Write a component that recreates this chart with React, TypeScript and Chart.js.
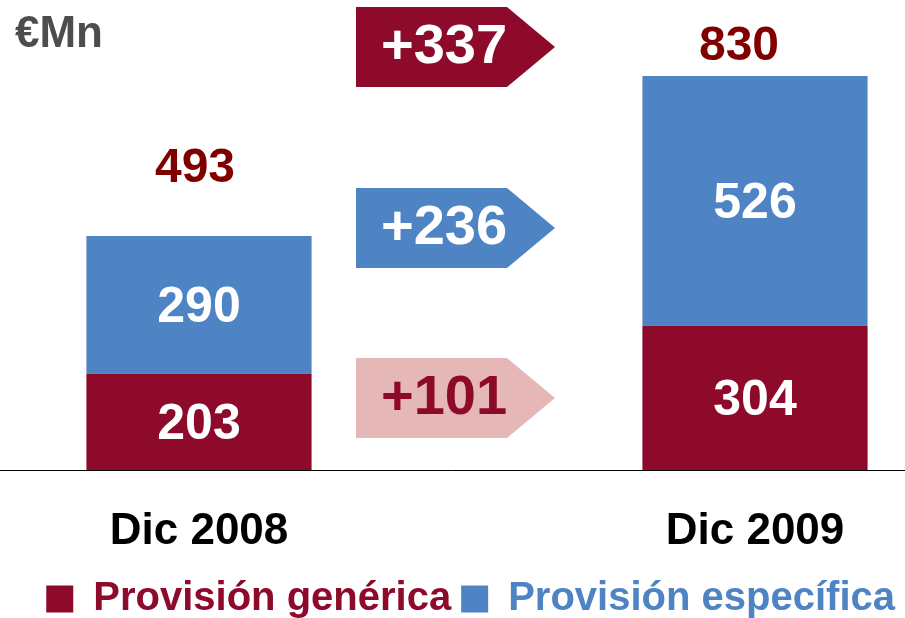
import { useEffect, useRef } from "react";
import { Chart, registerables } from "chart.js";

Chart.register(...registerables);

const categories = ["Dic 2008", "", "Dic 2009"];
const generica = [203, null, 304];
const especifica = [290, null, 526];
const seriesNames = ["Provisión genérica", "Provisión específica"];
const unitLabel = "€Mn";

const RED = "#8E0A2B";
const BLUE = "#4F84C4";
const PINK = "#E6B7B7";
const MAROON = "#800000";
const FONT = "'Liberation Sans', Arial, Helvetica, sans-serif";

const annotatePlugin = {
  id: "annotations",
  afterDatasetsDraw(chart: any) {
    const { ctx, scales, width } = chart;
    const x = scales.x;
    const y = scales.y;
    ctx.save();

    // baseline across the whole picture
    const y0 = Math.round(y.getPixelForValue(0)) + 0.5;
    ctx.strokeStyle = "#000";
    ctx.lineWidth = 1;
    ctx.beginPath();
    ctx.moveTo(0, y0);
    ctx.lineTo(width, y0);
    ctx.stroke();

    // segment value labels
    ctx.textAlign = "center";
    ctx.textBaseline = "middle";
    ctx.font = `bold 50px ${FONT}`;
    ctx.fillStyle = "#fff";
    chart.data.datasets.forEach((ds: any, di: number) => {
      const meta = chart.getDatasetMeta(di);
      meta.data.forEach((bar: any, i: number) => {
        const v = ds.data[i];
        if (v == null) return;
        const p = bar.getProps(["x", "y", "base"], true);
        ctx.fillText(String(v), p.x, (p.y + p.base) / 2 + 3);
      });
    });

    // totals above bars
    const totals = categories.map((_, i) =>
      generica[i] == null ? null : (generica[i] as number) + (especifica[i] as number)
    );
    const totalDx = [-4, 0, -16];
    const totalDy = [-67, 0, -29];
    ctx.font = `bold 48px ${FONT}`;
    ctx.fillStyle = MAROON;
    totals.forEach((t, i) => {
      if (t == null) return;
      ctx.fillText(String(t), x.getPixelForValue(i) + totalDx[i], y.getPixelForValue(t) + totalDy[i]);
    });

    // change arrows in the middle slot
    const mid = x.getPixelForValue(1);
    const arrows = [
      { delta: (totals[2] as number) - (totals[0] as number), at: 891, bg: RED, fg: "#fff" },
      { delta: (especifica[2] as number) - (especifica[0] as number), at: 510, bg: BLUE, fg: "#fff" },
      { delta: (generica[2] as number) - (generica[0] as number), at: 152, bg: PINK, fg: RED },
    ];
    arrows.forEach((a) => {
      const cy = y.getPixelForValue(a.at);
      const l = mid - 121;
      const r = mid + 30;
      const tip = mid + 78;
      ctx.fillStyle = a.bg;
      ctx.beginPath();
      ctx.moveTo(l, cy - 40);
      ctx.lineTo(r, cy - 40);
      ctx.lineTo(tip, cy);
      ctx.lineTo(r, cy + 40);
      ctx.lineTo(l, cy + 40);
      ctx.closePath();
      ctx.fill();
      ctx.fillStyle = a.fg;
      ctx.font = `bold 56px ${FONT}`;
      ctx.fillText("+" + a.delta, mid - 33, cy + 1);
    });

    // unit label
    ctx.textAlign = "left";
    ctx.font = `bold 44px ${FONT}`;
    ctx.fillStyle = "#4D4D4D";
    ctx.fillText(unitLabel, 15, 35);

    ctx.restore();
  },
};

export default function App() {
  const ref = useRef<HTMLCanvasElement | null>(null);

  useEffect(() => {
    document.body.style.margin = "0";
    const canvas = ref.current;
    if (!canvas) return;
    const chart = new Chart(canvas, {
      type: "bar",
      data: {
        labels: categories,
        datasets: [
          {
            label: seriesNames[0],
            data: generica,
            backgroundColor: RED,
            categoryPercentage: 1,
            barPercentage: 0.81,
          },
          {
            label: seriesNames[1],
            data: especifica,
            backgroundColor: BLUE,
            categoryPercentage: 1,
            barPercentage: 0.81,
          },
        ],
      },
      options: {
        responsive: false,
        animation: false,
        layout: { padding: { top: 0, right: 0, left: 0, bottom: -11 } },
        scales: {
          x: {
            stacked: true,
            grid: { display: false, drawTicks: false },
            border: { display: false },
            ticks: {
              color: "#000",
              padding: 35,
              font: { family: FONT, size: 44, weight: "bold" },
            },
            afterFit: (scale: any) => {
              scale.height = scale.height - 24;
            },
          },
          y: {
            stacked: true,
            min: 0,
            max: 990,
            grid: { display: false, drawTicks: false },
            border: { display: false },
            ticks: { display: false },
            afterFit: (scale: any) => {
              scale.width = 60;
            },
          },
          yRight: {
            type: "linear",
            position: "right",
            min: 0,
            max: 990,
            grid: { display: false, drawTicks: false },
            border: { display: false },
            ticks: { display: false },
            afterFit: (scale: any) => {
              scale.width = 11;
            },
          },
        },
        plugins: {
          tooltip: { enabled: false },
          legend: {
            position: "bottom",
            align: "end",
            labels: {
              boxWidth: 27,
              boxHeight: 27,
              padding: 10,
              font: { family: FONT, size: 40, weight: "bold" },
              generateLabels: (c: any) =>
                c.data.datasets.map((ds: any, i: number) => ({
                  text: ds.label,
                  fillStyle: ds.backgroundColor,
                  strokeStyle: ds.backgroundColor,
                  fontColor: ds.backgroundColor,
                  lineWidth: 0,
                  hidden: false,
                  datasetIndex: i,
                })),
            },
          },
        },
      },
      plugins: [annotatePlugin],
    });
    return () => chart.destroy();
  }, []);

  return <canvas ref={ref} width={905} height={618} style={{ display: "block" }} />;
}
